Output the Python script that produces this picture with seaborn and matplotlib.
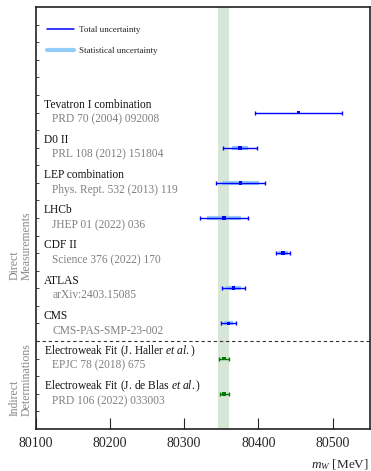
import numpy as np
import pandas as pd
import matplotlib
matplotlib.use("Agg")
import matplotlib.pyplot as plt
import seaborn as sns
from matplotlib.lines import Line2D

names = ["Tevatron I combination", "D0 II", "LEP combination", "LHCb", "CDF II",
         "ATLAS", "CMS", r"Electroweak Fit (J. Haller $\it{et\ al.}$)",
         r"Electroweak Fit (J. de Blas $\it{et\ al.}$)"]
refs = ["PRD 70 (2004) 092008", "PRL 108 (2012) 151804", "Phys. Rept. 532 (2013) 119",
        "JHEP 01 (2022) 036", "Science 376 (2022) 170", "arXiv:2403.15085",
        "CMS-PAS-SMP-23-002", "EPJC 78 (2018) 675", "PRD 106 (2022) 033003"]
central = [80454, 80375, 80376, 80354, 80433.5, 80366.5, 80360, 80354, 80354]
total_unc = [59, 23, 33, 32, 9.4, 16, 9.9, 7, 6]
stat_unc = [0, 11, 25, 23, 6.4, 9.8, 6.1, 0, 0]
kind = ["direct"] * 7 + ["indirect"] * 2
band_center = 80353
band_half = 7
xticks = [80100, 80200, 80300, 80400, 80500]

sns.set_theme(style="ticks")
plt.rcParams["font.family"] = ["Liberation Serif", "DejaVu Serif"]
plt.rcParams["mathtext.fontset"] = "custom"
plt.rcParams["mathtext.rm"] = "Liberation Serif"
plt.rcParams["mathtext.it"] = "Liberation Serif:italic"

df = pd.DataFrame({"name": names, "ref": refs, "mw": central, "tot": total_unc,
                   "stat": stat_unc, "kind": kind})
df["y"] = np.arange(len(df)) + 3

fig = plt.figure(figsize=(3.71, 4.71), dpi=100)
ax = fig.add_axes([0.0957, 0.0892, 0.901, 0.8959])

ax.axvspan(band_center - band_half, band_center + band_half, color="#d7e6d7", lw=0, zorder=0)

colors = {"direct": "#0000ff", "indirect": "#007a00"}
for _, r in df.iterrows():
    c = colors[r["kind"]]
    if r["stat"] > 0:
        ax.hlines(r["y"], r["mw"] - r["stat"], r["mw"] + r["stat"], color="#92cdf7",
                  lw=3.0, zorder=2)
    ax.errorbar(r["mw"], r["y"], xerr=r["tot"], fmt="none", ecolor=c, elinewidth=1.0,
                capsize=1.2, capthick=1.0, zorder=3)

sns.scatterplot(data=df, x="mw", y="y", hue="kind", palette=colors, marker="s", s=7,
                edgecolor="none", legend=False, ax=ax, zorder=4)

for _, r in df.iterrows():
    ax.text(0.024, r["y"] - 0.22, r["name"], transform=ax.get_yaxis_transform(),
            fontsize=8.3, color="#111111", va="center", ha="left")
    ax.text(0.05, r["y"] + 0.2, r["ref"], transform=ax.get_yaxis_transform(),
            fontsize=8.3, color="#808080", va="center", ha="left")

ax.axhline(9.5, color="#333333", lw=0.8, ls=(0, (3, 2.5)))

ax.set_xlim(80100, 80550)
ax.set_ylim(12, 0)
ax.set_xticks(xticks)
ax.set_xticklabels([str(t) for t in xticks], fontsize=10)
ax.set_yticks(np.arange(0.5, 12, 0.5))
ax.set_yticklabels([])
ax.tick_params(axis="x", direction="in", length=8, width=0.8, pad=6)
ax.tick_params(axis="y", direction="in", length=2, width=0.6)
for s in ax.spines.values():
    s.set_linewidth(1.2)
    s.set_color("#222222")
ax.set_xlabel("")
ax.set_ylabel("")

ax.text(0.996, -0.085, r"$m_W$ [MeV]", transform=ax.transAxes, fontsize=9.5,
        ha="right", va="center")

ax.text(-0.045, 7.76, "Direct\nMeasurements", transform=ax.get_yaxis_transform(),
        rotation=90, fontsize=8.5, color="#888888", ha="center", va="bottom",
        multialignment="left", linespacing=1.0)
ax.text(-0.045, 11.64, "Indirect\nDeterminations", transform=ax.get_yaxis_transform(),
        rotation=90, fontsize=8.5, color="#888888", ha="center", va="bottom",
        multialignment="left", linespacing=1.0)

handles = [Line2D([], [], color="#0000ff", lw=1.1),
           Line2D([], [], color="#92cdf7", lw=3.0)]
ax.legend(handles, ["Total uncertainty", "Statistical uncertainty"], loc="upper left",
          bbox_to_anchor=(0.01, 0.975), frameon=False, fontsize=6.5, handlelength=3.0,
          labelspacing=1.45, handletextpad=0.6)

fig.savefig("out.png", dpi=100)
